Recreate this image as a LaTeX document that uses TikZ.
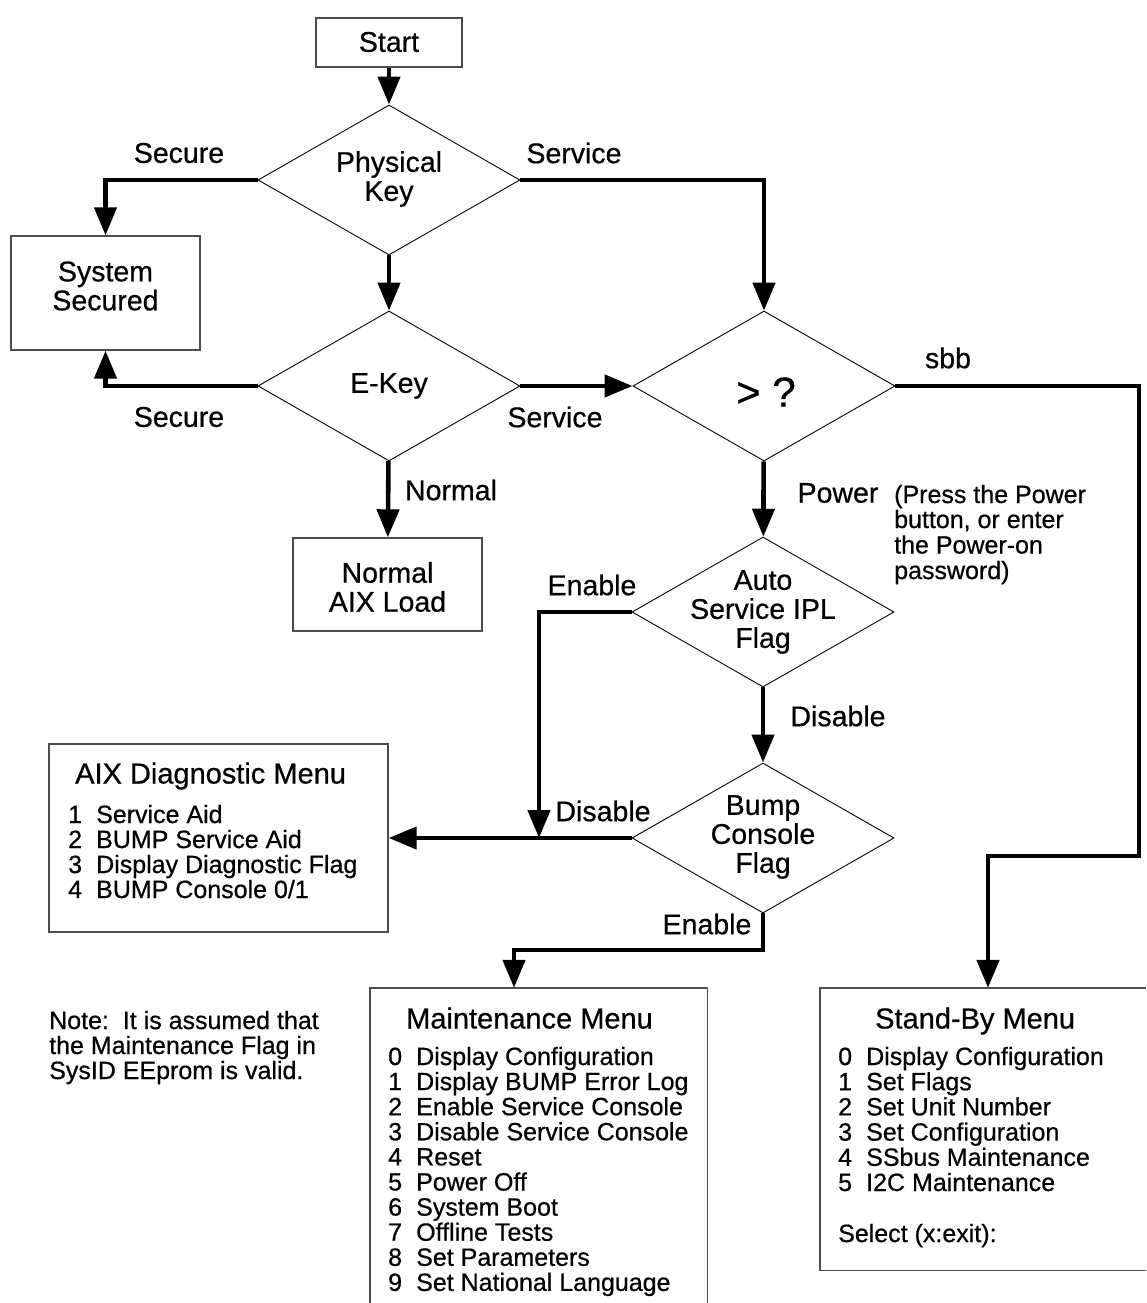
\documentclass[tikz,border=0pt]{standalone}
\usepackage{fontspec}
\setmainfont{Liberation Sans}[FakeBold=0.6]
\usetikzlibrary{arrows.meta,shapes.geometric}
\begin{document}
\begin{tikzpicture}[x=1pt,y=-1pt,
  box/.style={draw=black!70, line width=1.4pt, inner sep=0pt},
  boxline/.style={draw=black!70, line width=1.4pt},
  dia/.style={diamond, draw, line width=0.9pt, minimum width=262pt, minimum height=150pt, inner sep=0pt},
  lbl/.style={font=\fontsize{28.5}{29}\selectfont, inner sep=0pt, align=center},
  item/.style={font=\fontsize{25}{25}\selectfont, inner sep=0pt, anchor=base west},
  head/.style={font=\fontsize{29}{29}\selectfont, inner sep=0pt, anchor=base west},
  flow/.style={line width=4.6pt, -{Triangle[width=22pt,length=28pt]}},
  plain/.style={line width=4.6pt}
]
\useasboundingbox (0,0) rectangle (1146,1303);

% boxes
\node[box, minimum width=146pt, minimum height=49pt] (start) at (389,42.5) {};
\node[lbl] (startt) at (389,42) {Start};
\node[box, minimum width=189pt, minimum height=114pt] (ss) at (105.5,293) {};
\node[lbl] (sst) at (105.5,286) {System\\Secured};
\node[box, minimum width=189pt, minimum height=93pt] (normal) at (387.5,584.5) {};
\node[lbl] (normalt) at (387.5,587) {Normal\\AIX Load};
\node[box, minimum width=339pt, minimum height=188pt] (aix) at (218.5,838) {};
\node (maint) [minimum width=337pt, minimum height=315pt, inner sep=0pt] at (538.5,1145.5) {};
\draw[boxline] (maint.south west) -- (maint.north west) -- (maint.north east) -- (maint.south east);
\node (sb) [minimum width=326pt, minimum height=282pt, inner sep=0pt] at (983,1129) {};
\draw[boxline] (sb.north east) -- (sb.north west) -- (sb.south west) -- (sb.south east);

% diamonds
\node[dia] (pk) at (389,180) {};
\node[lbl] (pkt) at (389,179) {Physical\\Key};
\node[dia] (ek) at (389,386) {};
\node[lbl] (ekt) at (389,386) {E-Key};
\node[dia] (q) at (764,386) {};
\node[lbl, font=\fontsize{42}{42}\selectfont] (qt) at (766,392) {> ?};
\node[dia] (auto) at (763,612) {};
\node[lbl] (autot) at (763,612) {Auto\\Service IPL\\Flag};
\node[dia] (bump) at (763,838) {};
\node[lbl] (bumpt) at (763,837) {Bump\\Console\\Flag};

% labels
\node[lbl] (l1) at (179,153) {Secure};
\node[lbl] (l2) at (574,153) {Service};
\node[lbl] (l3) at (179,417) {Secure};
\node[lbl] (l4) at (555,417) {Service};
\node[lbl] (l5) at (948,358) {sbb};
\node[lbl] (l6) at (451,490) {Normal};
\node[lbl] (l7) at (838,493) {Power};
\node[lbl] (l8) at (592,585) {Enable};
\node[lbl] (l9) at (838,716) {Disable};
\node[lbl] (l10) at (603,811) {Disable};
\node[lbl] (l11) at (707,924) {Enable};
\node[item] (p1) at (894,503) {(Press the Power};
\node[item] (p2) at (894,528) {button, or enter};
\node[item] (p3) at (894,553.5) {the Power-on};
\node[item] (p4) at (894,579) {password)};

% note
\node[item] (n1) at (49,1029) {Note:\ \ It is assumed that};
\node[item] (n2) at (49,1054) {the Maintenance Flag in};
\node[item] (n3) at (49,1079) {SysID EEprom is valid.};

% AIX menu
\node[head] (aixh) at (75,783.5) {AIX Diagnostic Menu};
\foreach \t [count=\i] in {Service Aid, BUMP Service Aid, Display Diagnostic Flag, BUMP Console 0/1}
  \node[item] (a\i) at (68,{814+25*(\i-1)+9}) {\makebox[28pt][l]{\i}\t};

% Maintenance menu
\node[head] (mh) at (406,1028.5) {Maintenance Menu};
\foreach \t [count=\i from 0] in {Display Configuration, Display BUMP Error Log, Enable Service Console, Disable Service Console, Reset, Power Off, System Boot, Offline Tests, Set Parameters, Set National Language}
  \node[item] (m\i) at (388,{1056+25.1*\i+9}) {\makebox[28pt][l]{\i}\t};

% Stand-by menu
\node[head] (sh) at (875,1028.5) {Stand-By Menu};
\foreach \t [count=\i from 0] in {Display Configuration, Set Flags, Set Unit Number, Set Configuration, SSbus Maintenance, I2C Maintenance}
  \node[item] (s\i) at (838,{1056+25.2*\i+9}) {\makebox[28pt][l]{\i}\t};
\node[item] (sel) at (838,1242) {Select (x:exit):};

% connectors
\coordinate (j) at (539,838);
\coordinate (r1) at (1139,386);
\coordinate (r2) at (988,856);
\coordinate (m1) at (514,950);
\draw[flow] (start) -- (pk);
\draw[flow] (pk.west) -| (ss.north);
\draw[flow] (pk) -- (ek);
\draw[flow] (pk.east) -| (q.north);
\draw[flow] (ek.west) -| (ss.south);
\draw[flow] (ek) -- (q);
\draw[flow] (ek) -- (normal);
\draw[flow] (q.east) -- (r1) |- (r2) -- (r2 |- sb.north);
\draw[flow] (q) -- (auto);
\draw[flow] (auto.west) -| (j);
\draw[flow] (auto) -- (bump);
\draw[flow] (bump.west) -- (aix.east);
\draw[flow] (bump.south) |- (m1) -- (m1 |- maint.north);
\end{tikzpicture}
\end{document}
